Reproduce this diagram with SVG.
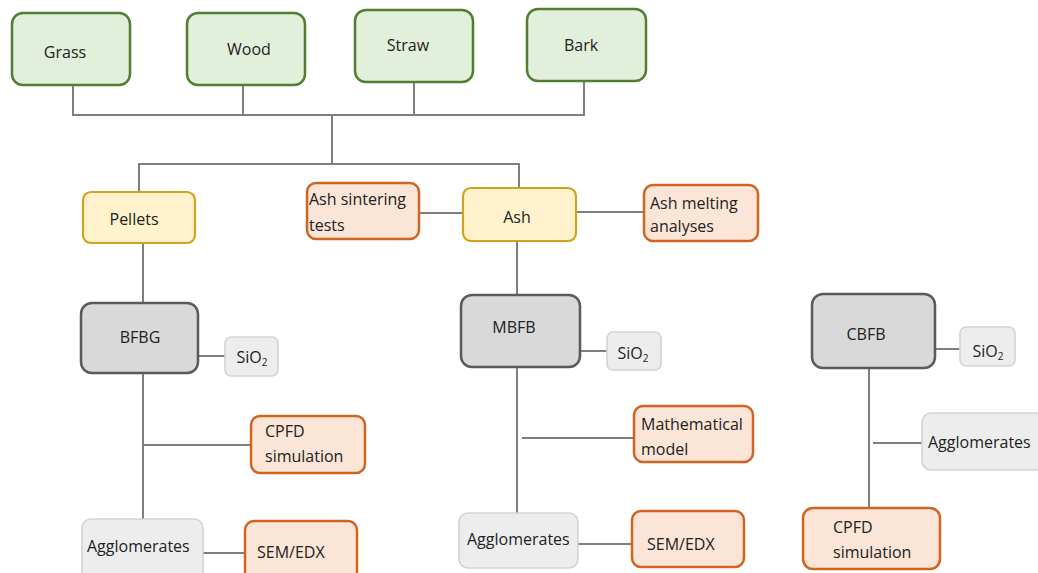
<svg xmlns="http://www.w3.org/2000/svg" width="1038" height="573" viewBox="0 0 1038 573">
<style>
text{font-family:"Open Sans","Liberation Sans",sans-serif;font-size:16px;fill:#222222}
.c{text-anchor:middle}
.conn line,.conn polyline{stroke:#7f7f7f;stroke-width:2;fill:none}
.green{fill:#e2efda;stroke:#517e33;stroke-width:2.5}
.yellow{fill:#fff2cc;stroke:#d1a21e;stroke-width:2.2}
.orange{fill:#fbe5d6;stroke:#cf6423;stroke-width:2.5}
.dark{fill:#d9d9d9;stroke:#5a5a5a;stroke-width:2.5}
.light{fill:#ededed;stroke:#d4d4d4;stroke-width:1.6}
.sub{font-size:10px}
</style>
<rect width="1038" height="573" fill="#ffffff"/>
<g class="conn" id="connectors">
<polyline points="73,85 73,115 584,115 584,81"/>
<line x1="243" y1="85" x2="243" y2="115"/>
<line x1="414" y1="82" x2="414" y2="115"/>
<line x1="332" y1="115" x2="332" y2="164"/>
<polyline points="139,192 139,164 519,164 519,188"/>
<line x1="419" y1="213" x2="463" y2="213"/>
<line x1="576" y1="212" x2="644" y2="212"/>
<line x1="143" y1="243" x2="143" y2="303"/>
<line x1="517" y1="241" x2="517" y2="295"/>
<line x1="198" y1="356" x2="225" y2="356"/>
<line x1="143" y1="373" x2="143" y2="519"/>
<line x1="143" y1="445" x2="251" y2="445"/>
<line x1="203" y1="553" x2="245" y2="553"/>
<line x1="580" y1="351" x2="607" y2="351"/>
<line x1="517" y1="367" x2="517" y2="513"/>
<line x1="522" y1="438" x2="634" y2="438"/>
<line x1="578" y1="544" x2="632" y2="544"/>
<line x1="935" y1="349" x2="960" y2="349"/>
<line x1="869" y1="368" x2="869" y2="508"/>
<line x1="873" y1="443" x2="922" y2="443"/>
</g>
<g id="grass"><rect class="green" x="12" y="13" width="118" height="72" rx="11"/><text class="c" x="65" y="58">Grass</text></g>
<g id="wood"><rect class="green" x="187" y="13" width="118" height="72" rx="11"/><text class="c" x="249" y="55">Wood</text></g>
<g id="straw"><rect class="green" x="355" y="10" width="118" height="72" rx="11"/><text class="c" x="408" y="51">Straw</text></g>
<g id="bark"><rect class="green" x="527" y="9" width="119" height="72" rx="11"/><text class="c" x="581" y="51">Bark</text></g>
<g id="pellets"><rect class="yellow" x="83" y="192" width="112" height="51" rx="8"/><text class="c" x="134" y="225">Pellets</text></g>
<g id="ash-sintering"><rect class="orange" x="307" y="183" width="112" height="56" rx="9"/><text x="309" y="205">Ash sintering</text><text x="309" y="231">tests</text></g>
<g id="ash"><rect class="yellow" x="463" y="188" width="113" height="53" rx="8"/><text class="c" x="517" y="223">Ash</text></g>
<g id="ash-melting"><rect class="orange" x="644" y="185" width="114" height="56" rx="9"/><text x="650" y="209">Ash melting</text><text x="650" y="232">analyses</text></g>
<g id="bfbg"><rect class="dark" x="81" y="303" width="117" height="70" rx="11"/><text class="c" x="140" y="343">BFBG</text></g>
<g id="sio2-1"><rect class="light" x="225" y="337" width="53" height="39" rx="6"/><text class="c" x="252" y="363">SiO<tspan class="sub" dy="3">2</tspan></text></g>
<g id="cpfd-1"><rect class="orange" x="251" y="416" width="114" height="57" rx="9"/><text x="265" y="437">CPFD</text><text x="265" y="462">simulation</text></g>
<g id="agglo-1"><rect class="light" x="82" y="519" width="121" height="62" rx="9"/><text x="87" y="552">Agglomerates</text></g>
<g id="sem-1"><rect class="orange" x="245" y="521" width="112" height="60" rx="9"/><text x="257" y="558">SEM/EDX</text></g>
<g id="mbfb"><rect class="dark" x="461" y="295" width="119" height="72" rx="11"/><text class="c" x="514" y="333">MBFB</text></g>
<g id="sio2-2"><rect class="light" x="607" y="332" width="54" height="38" rx="6"/><text class="c" x="633" y="359">SiO<tspan class="sub" dy="3">2</tspan></text></g>
<g id="math-model"><rect class="orange" x="634" y="406" width="119" height="56" rx="9"/><text x="641" y="430">Mathematical</text><text x="641" y="455">model</text></g>
<g id="agglo-2"><rect class="light" x="459" y="513" width="119" height="55" rx="9"/><text x="467" y="545">Agglomerates</text></g>
<g id="sem-2"><rect class="orange" x="632" y="511" width="112" height="56" rx="9"/><text x="647" y="550">SEM/EDX</text></g>
<g id="cbfb"><rect class="dark" x="812" y="294" width="123" height="74" rx="11"/><text class="c" x="866" y="340">CBFB</text></g>
<g id="sio2-3"><rect class="light" x="960" y="327" width="55" height="39" rx="6"/><text class="c" x="988" y="357">SiO<tspan class="sub" dy="3">2</tspan></text></g>
<g id="agglo-3"><rect class="light" x="922" y="413" width="130" height="57" rx="9"/><text x="928" y="448">Agglomerates</text></g>
<g id="cpfd-3"><rect class="orange" x="803" y="508" width="137" height="61" rx="10"/><text x="833" y="533">CPFD</text><text x="833" y="558">simulation</text></g>
</svg>
